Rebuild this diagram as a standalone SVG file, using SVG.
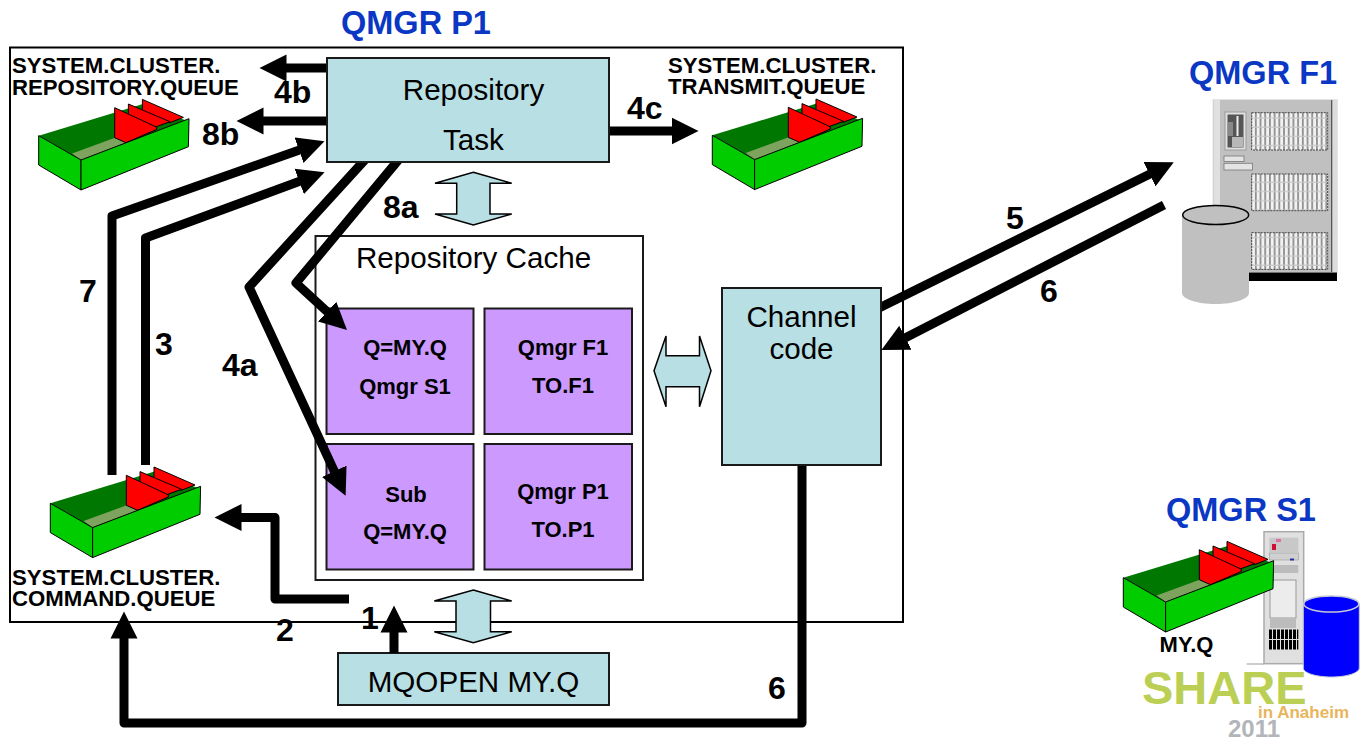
<svg xmlns="http://www.w3.org/2000/svg" width="1364" height="740" viewBox="0 0 1364 740">
<style>
text{font-family:"Liberation Sans",Arial,sans-serif;fill:#000}
.b{font-weight:bold}
.box{fill:#b8dfe3;stroke:#1a1a1a;stroke-width:2}
.cell{fill:#cc99ff;stroke:#1a1a1a;stroke-width:2}
.t{font-size:29.6px;text-anchor:middle}
.c{font-size:22px;font-weight:bold;text-anchor:middle}
.q{font-size:22.2px;font-weight:bold}
.n{font-size:32px;font-weight:bold}
.h{font-size:32.5px;font-weight:bold;fill:#0a37c4}
.w{fill:none;stroke:#000;stroke-width:9;stroke-linejoin:round}
.ba{fill:#b8dfe3;stroke:#000;stroke-width:1.5}
.qs{stroke:#000;stroke-width:1;stroke-linejoin:round}
</style>
<defs>
<marker id="head" markerUnits="userSpaceOnUse" markerWidth="28" markerHeight="28" viewBox="0 0 28 28" refX="0.5" refY="14" orient="auto"><path d="M0 .5L27 14L0 27.5Z" fill="#000"/></marker>
<pattern id="grille" patternUnits="userSpaceOnUse" width="4.7" height="9.2"><rect width="4.7" height="9.2" fill="#f2f2f2"/><rect width="1.8" height="9.2" fill="#909090"/><rect y="7" width="4.7" height="1.2" fill="#c8c8c8"/></pattern>
<symbol id="queue" overflow="visible" width="160" height="100" viewBox="0 0 160 100">
<g class="qs">
<polygon points="0,0 105,-32 148,-15 42.3,24.3" fill="#007700" stroke="none"/>
<polygon points="33.3,17.7 76.3,2 87.3,7 42.3,24.3" fill="#7da35f" stroke="none"/>
<polygon points="103.7,-36.3 144.7,-18.3 131,-13 103.7,-22" fill="#f00"/>
<polygon points="89.7,-31.7 131.3,-14 104,-4 89.7,-10" fill="#f00"/>
<polygon points="76,-28 118,-8.5 118,-6.3 87.3,7 76,2" fill="#f00"/>
<polygon points="0,0 42.3,24.3 42.3,54.3 0,29.3" fill="#0c0"/>
<polygon points="42.3,24.3 150.3,-17 149.7,11 42.3,54.3" fill="#0c0"/>
</g>
</symbol>
</defs>
<rect id="qmgr-p1-frame" x="10" y="47.5" width="893" height="574.5" fill="none" stroke="#000" stroke-width="2"/>
<text class="h" x="341" y="34">QMGR P1</text>
<g id="repository-cache"><rect x="315.5" y="236" width="327.5" height="344" fill="#fff" stroke="#1a1a1a" stroke-width="2"/><text class="t" x="473.5" y="268">Repository Cache</text></g>
<g id="cell-q-my-q"><rect class="cell" x="326.5" y="308.5" width="147" height="125.5"/><text class="c" x="405" y="355">Q=MY.Q</text><text class="c" x="405" y="394">Qmgr S1</text></g>
<g id="cell-qmgr-f1"><rect class="cell" x="484.5" y="308.5" width="147.5" height="125.5"/><text class="c" x="563" y="355">Qmgr F1</text><text class="c" x="563" y="393">TO.F1</text></g>
<g id="cell-sub"><rect class="cell" x="326.5" y="444" width="147" height="125.5"/><text class="c" x="406" y="502">Sub</text><text class="c" x="405" y="539">Q=MY.Q</text></g>
<g id="cell-qmgr-p1"><rect class="cell" x="484.5" y="444" width="147.5" height="125.5"/><text class="c" x="563" y="499">Qmgr P1</text><text class="c" x="563" y="537">TO.P1</text></g>
<g id="mqopen"><rect class="box" x="338" y="653" width="271" height="52"/><text class="t" x="473.5" y="692">MQOPEN MY.Q</text></g>
<g id="queue-repository"><use href="#queue" x="38.7" y="135.7" width="160" height="100"/><text class="q" x="12" y="73">SYSTEM.CLUSTER.</text><text class="q" x="12" y="94.500">REPOSITORY.QUEUE</text></g>
<g id="queue-transmit"><use href="#queue" x="712.3" y="135.3" width="160" height="100"/><text class="q" x="668" y="73">SYSTEM.CLUSTER.</text><text class="q" x="668" y="94">TRANSMIT.QUEUE</text></g>
<g id="queue-command"><use href="#queue" x="50.3" y="503.3" width="160" height="100"/><text class="q" x="12" y="585">SYSTEM.CLUSTER.</text><text class="q" x="12" y="606">COMMAND.QUEUE</text></g>
<g id="block-arrows">
<polygon class="ba" points="473.3,172.3 511.7,183.3 490,183.3 490,214 511.7,214 473.3,225 435,214 456.7,214 456.7,183.3 435,183.3"/>
<polygon class="ba" points="473.3,590 511.7,601 490.500,601 490.500,631.700 511.700,631.700 473.300,642.700 434.300,631.700 456,631.700 456,601 434.300,601"/>
<polygon class="ba" points="654,370.700 666,336 666,355.700 699.500,355.700 699.500,336 711,370.700 699.500,406.700 699.500,386.700 666,386.700 666,406.700"/>
</g>
<g id="connectors">
<path class="w" marker-end="url(#head)" d="M330 68H286"/>
<path class="w" marker-end="url(#head)" d="M330 121H263"/>
<path class="w" marker-end="url(#head)" d="M605 131H672"/>
<path class="w" marker-end="url(#head)" d="M112 475V216L299.500 150"/>
<path class="w" marker-end="url(#head)" d="M145.500 465V238L299.700 181.300"/>
<path class="w" marker-end="url(#head)" d="M400 158L296 283L327.500 312"/>
<path class="w" marker-end="url(#head)" d="M366 158.600L249 287L334.500 471.700"/>
<path class="w" marker-end="url(#head)" d="M394 653V632"/>
<path class="w" marker-end="url(#head)" d="M349 599H275V517.500H241"/>
<path class="w" marker-end="url(#head)" d="M802 462V723H124V638"/>
<path class="w" marker-end="url(#head)" d="M875 310L1150 174"/>
<path class="w" marker-end="url(#head)" d="M1164 205L905 338"/>
</g>
<g id="repository-task"><rect class="box" x="327" y="58" width="282" height="104"/><text class="t" x="473.5" y="100">Repository</text><text class="t" x="473.5" y="150">Task</text></g>
<g id="channel-code"><rect class="box" x="722" y="288" width="159" height="177"/><text class="t" x="801.5" y="327">Channel</text><text class="t" x="801.5" y="359">code</text></g>
<g id="labels">
<text class="n" x="274" y="103">4b</text>
<text class="n" x="202" y="145">8b</text>
<text class="n" x="627" y="119">4c</text>
<text class="n" x="383" y="218">8a</text>
<text class="n" x="79" y="302">7</text>
<text class="n" x="155" y="355">3</text>
<text class="n" x="222" y="376">4a</text>
<text class="n" x="1006" y="229">5</text>
<text class="n" x="1040" y="302">6</text>
<text class="n" x="768" y="699">6</text>
<text class="n" x="276" y="641">2</text>
<text class="n" x="361" y="629">1</text>
</g>
<g id="qmgr-f1">
<text class="h" x="1189" y="84">QMGR F1</text>
<rect x="1213" y="99.500" width="124.500" height="173" fill="#c0c0c0" stroke="#e4e4e4" stroke-width="1"/>
<rect x="1214" y="100" width="6" height="172" fill="#e0e0e0"/>
<rect x="1331" y="100" width="1.500" height="172" fill="#555"/>
<rect x="1332.500" y="100" width="4.500" height="172" fill="#dcdcdc"/>
<rect x="1249" y="272.500" width="88" height="8.500" fill="#000"/>
<rect x="1251.700" y="112.700" width="76" height="37.300" fill="url(#grille)" stroke="#444" stroke-width="1" stroke-dasharray="2 1"/>
<rect x="1251.700" y="174" width="76" height="36.700" fill="url(#grille)" stroke="#444" stroke-width="1" stroke-dasharray="2 1"/>
<rect x="1251.700" y="232.700" width="76" height="36.700" fill="url(#grille)" stroke="#444" stroke-width="1" stroke-dasharray="2 1"/>
<rect x="1225" y="112" width="21" height="38" fill="#e0e0e0" stroke="#9a9a9a"/>
<rect x="1227.500" y="114.500" width="16" height="33" fill="#555"/>
<rect x="1228" y="122" width="5" height="14" fill="#888"/>
<rect x="1236.500" y="116" width="2" height="20" fill="#eee"/>
<rect x="1232" y="137" width="11" height="10" fill="#b8b8b8"/>
<rect x="1224" y="156" width="20" height="5.500" fill="#e4e4e4" stroke="#777" stroke-width=".8"/>
<rect x="1224" y="163.300" width="28.500" height="6.700" fill="#e4e4e4" stroke="#777" stroke-width=".8"/>
<path d="M1182 215V293C1182 299 1197 304 1215.500 304C1234 304 1249 299 1249 293V215Z" fill="#c0c0c0"/>
<ellipse cx="1215.700" cy="215" rx="33" ry="9.500" fill="#c0c0c0" stroke="#000" stroke-width="1.500"/>
</g>
<g id="qmgr-s1">
<text class="h" x="1166" y="521">QMGR S1</text>
<path d="M1246.700 664H1264" stroke="#999" fill="none"/>
<rect x="1264" y="531.700" width="39.700" height="132" fill="#e0e0e0" stroke="#aaa" stroke-width="1.500"/>
<rect x="1269.300" y="537.700" width="29" height="14.500" fill="#c8c8c8"/>
<rect x="1272" y="544" width="4" height="6" fill="#d01030"/>
<rect x="1276" y="539" width="5" height="3" fill="#e070a0"/>
<rect x="1269.300" y="553" width="29" height="7" fill="#d0d0d0" stroke="#999" stroke-width=".6"/>
<rect x="1290" y="558.500" width="4" height="2" fill="#2030a0"/>
<rect x="1269.300" y="565" width="29" height="8" fill="#bcbcbc"/>
<rect x="1270" y="580" width="26" height="38" fill="#ececec" stroke="#999"/>
<rect x="1270" y="619" width="26" height="9" fill="#bcbcbc"/>
<path d="M1269 634.200H1298.300M1269 644.700H1298.300" fill="none" stroke="#000" stroke-width="9.500" stroke-dasharray="3 1"/>
<path d="M1303.300 604V668C1303.300 673 1316 677 1331.300 677C1346.700 677 1359.300 673 1359.300 668V604Z" fill="#00f" stroke="#c4c8d4" stroke-width="1"/>
<ellipse cx="1331.300" cy="604" rx="27.500" ry="8" fill="#00f" stroke="#c4c8d4" stroke-width="1.500"/>
<use href="#queue" x="1123.300" y="577.700" width="160" height="100"/>
<text class="c" x="1186.500" y="652">MY.Q</text>
</g>
<g id="share-logo">
<text class="b" x="1142" y="704" style="font-size:47px;fill:#bccf55">SHARE</text>
<text class="b" x="1258" y="718" style="font-size:17px;fill:#e8b55c">in Anaheim</text>
<text class="b" x="1228" y="737" style="font-size:24px;fill:#b2b5b9">2011</text>
</g>
</svg>
